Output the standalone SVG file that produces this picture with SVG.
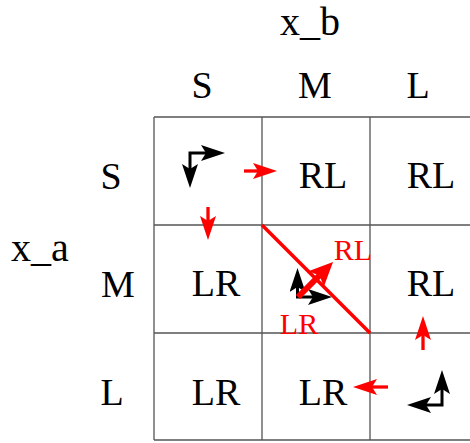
<svg xmlns="http://www.w3.org/2000/svg" width="470" height="443" viewBox="0 0 470 443">
<style>
text{font-family:"Liberation Serif","Times New Roman",serif;text-anchor:middle;fill:#000}
.axis{font-size:40px}
.lab{font-size:38px}
.cell{font-size:38px}
.red{font-size:30px;fill:#f00}
.grid{stroke:#555;stroke-width:1.3;fill:none}
.blk{stroke:#000;stroke-width:3;fill:none;marker-start:url(#hb);marker-end:url(#hb)}
.rarr{stroke:#f00;stroke-width:3.3;fill:none;marker-end:url(#hr)}
</style>
<defs>
<marker id="hb" viewBox="0 0 24 16" refX="5" refY="8" markerWidth="24" markerHeight="16" markerUnits="userSpaceOnUse" orient="auto-start-reverse">
<path d="M0,0 L24,8 L0,16 L5,8 Z" fill="#000"/>
</marker>
<marker id="hr" viewBox="0 0 24 16" refX="5" refY="8" markerWidth="24" markerHeight="16" markerUnits="userSpaceOnUse" orient="auto">
<path d="M0,0 L24,8 L0,16 L5,8 Z" fill="#f00"/>
</marker>
<marker id="hrb" viewBox="0 0 24 22" refX="5" refY="11" markerWidth="24" markerHeight="22" markerUnits="userSpaceOnUse" orient="auto">
<path d="M0,0 L24,11 L0,22 L5,11 Z" fill="#f00"/>
</marker>
</defs>
<g id="axes">
<text class="axis" x="310" y="35">x_b</text>
<text class="axis" x="40" y="261">x_a</text>
</g>
<g id="headers">
<text class="lab" x="202" y="98">S</text>
<text class="lab" x="315" y="98">M</text>
<text class="lab" x="418" y="98">L</text>
<text class="lab" x="111" y="189">S</text>
<text class="lab" x="118" y="297">M</text>
<text class="lab" x="112" y="405">L</text>
</g>
<g id="grid">
<path class="grid" d="M154,117 H470 M154,225 H470 M154,333 H470 M154,440 H470 M154,117 V440 M262,117 V440 M370,117 V440"/>
</g>
<g id="cell-S-M"><text class="cell" x="323" y="188">RL</text></g>
<g id="cell-S-L"><text class="cell" x="431" y="188">RL</text></g>
<g id="cell-M-S"><text class="cell" x="216" y="296">LR</text></g>
<g id="cell-M-L"><text class="cell" x="431" y="296">RL</text></g>
<g id="cell-L-S"><text class="cell" x="216" y="405">LR</text></g>
<g id="cell-L-M"><text class="cell" x="323" y="405">LR</text></g>
<g id="cell-S-S"><path class="blk" d="M190,169 V153 H206"/></g>
<g id="cell-L-L"><path class="blk" d="M442,389 V405 H426"/></g>
<g id="cell-M-M">
<path class="blk" d="M297.5,287 V297 H313"/>
<line x1="262" y1="225" x2="370" y2="333" stroke="#f00" stroke-width="3.5"/>
<line x1="298" y1="297" x2="319.6" y2="275.4" stroke="#f00" stroke-width="6" marker-end="url(#hrb)"/>
<text class="red" x="353" y="260">RL</text>
<text class="red" x="299" y="334">LR</text>
</g>
<g id="connectors">
<line class="rarr" x1="244" y1="171" x2="258" y2="171"/>
<line class="rarr" x1="208" y1="207" x2="208" y2="221"/>
<line class="rarr" x1="423" y1="350" x2="423" y2="335"/>
<line class="rarr" x1="388" y1="387" x2="372" y2="387"/>
</g>
</svg>
